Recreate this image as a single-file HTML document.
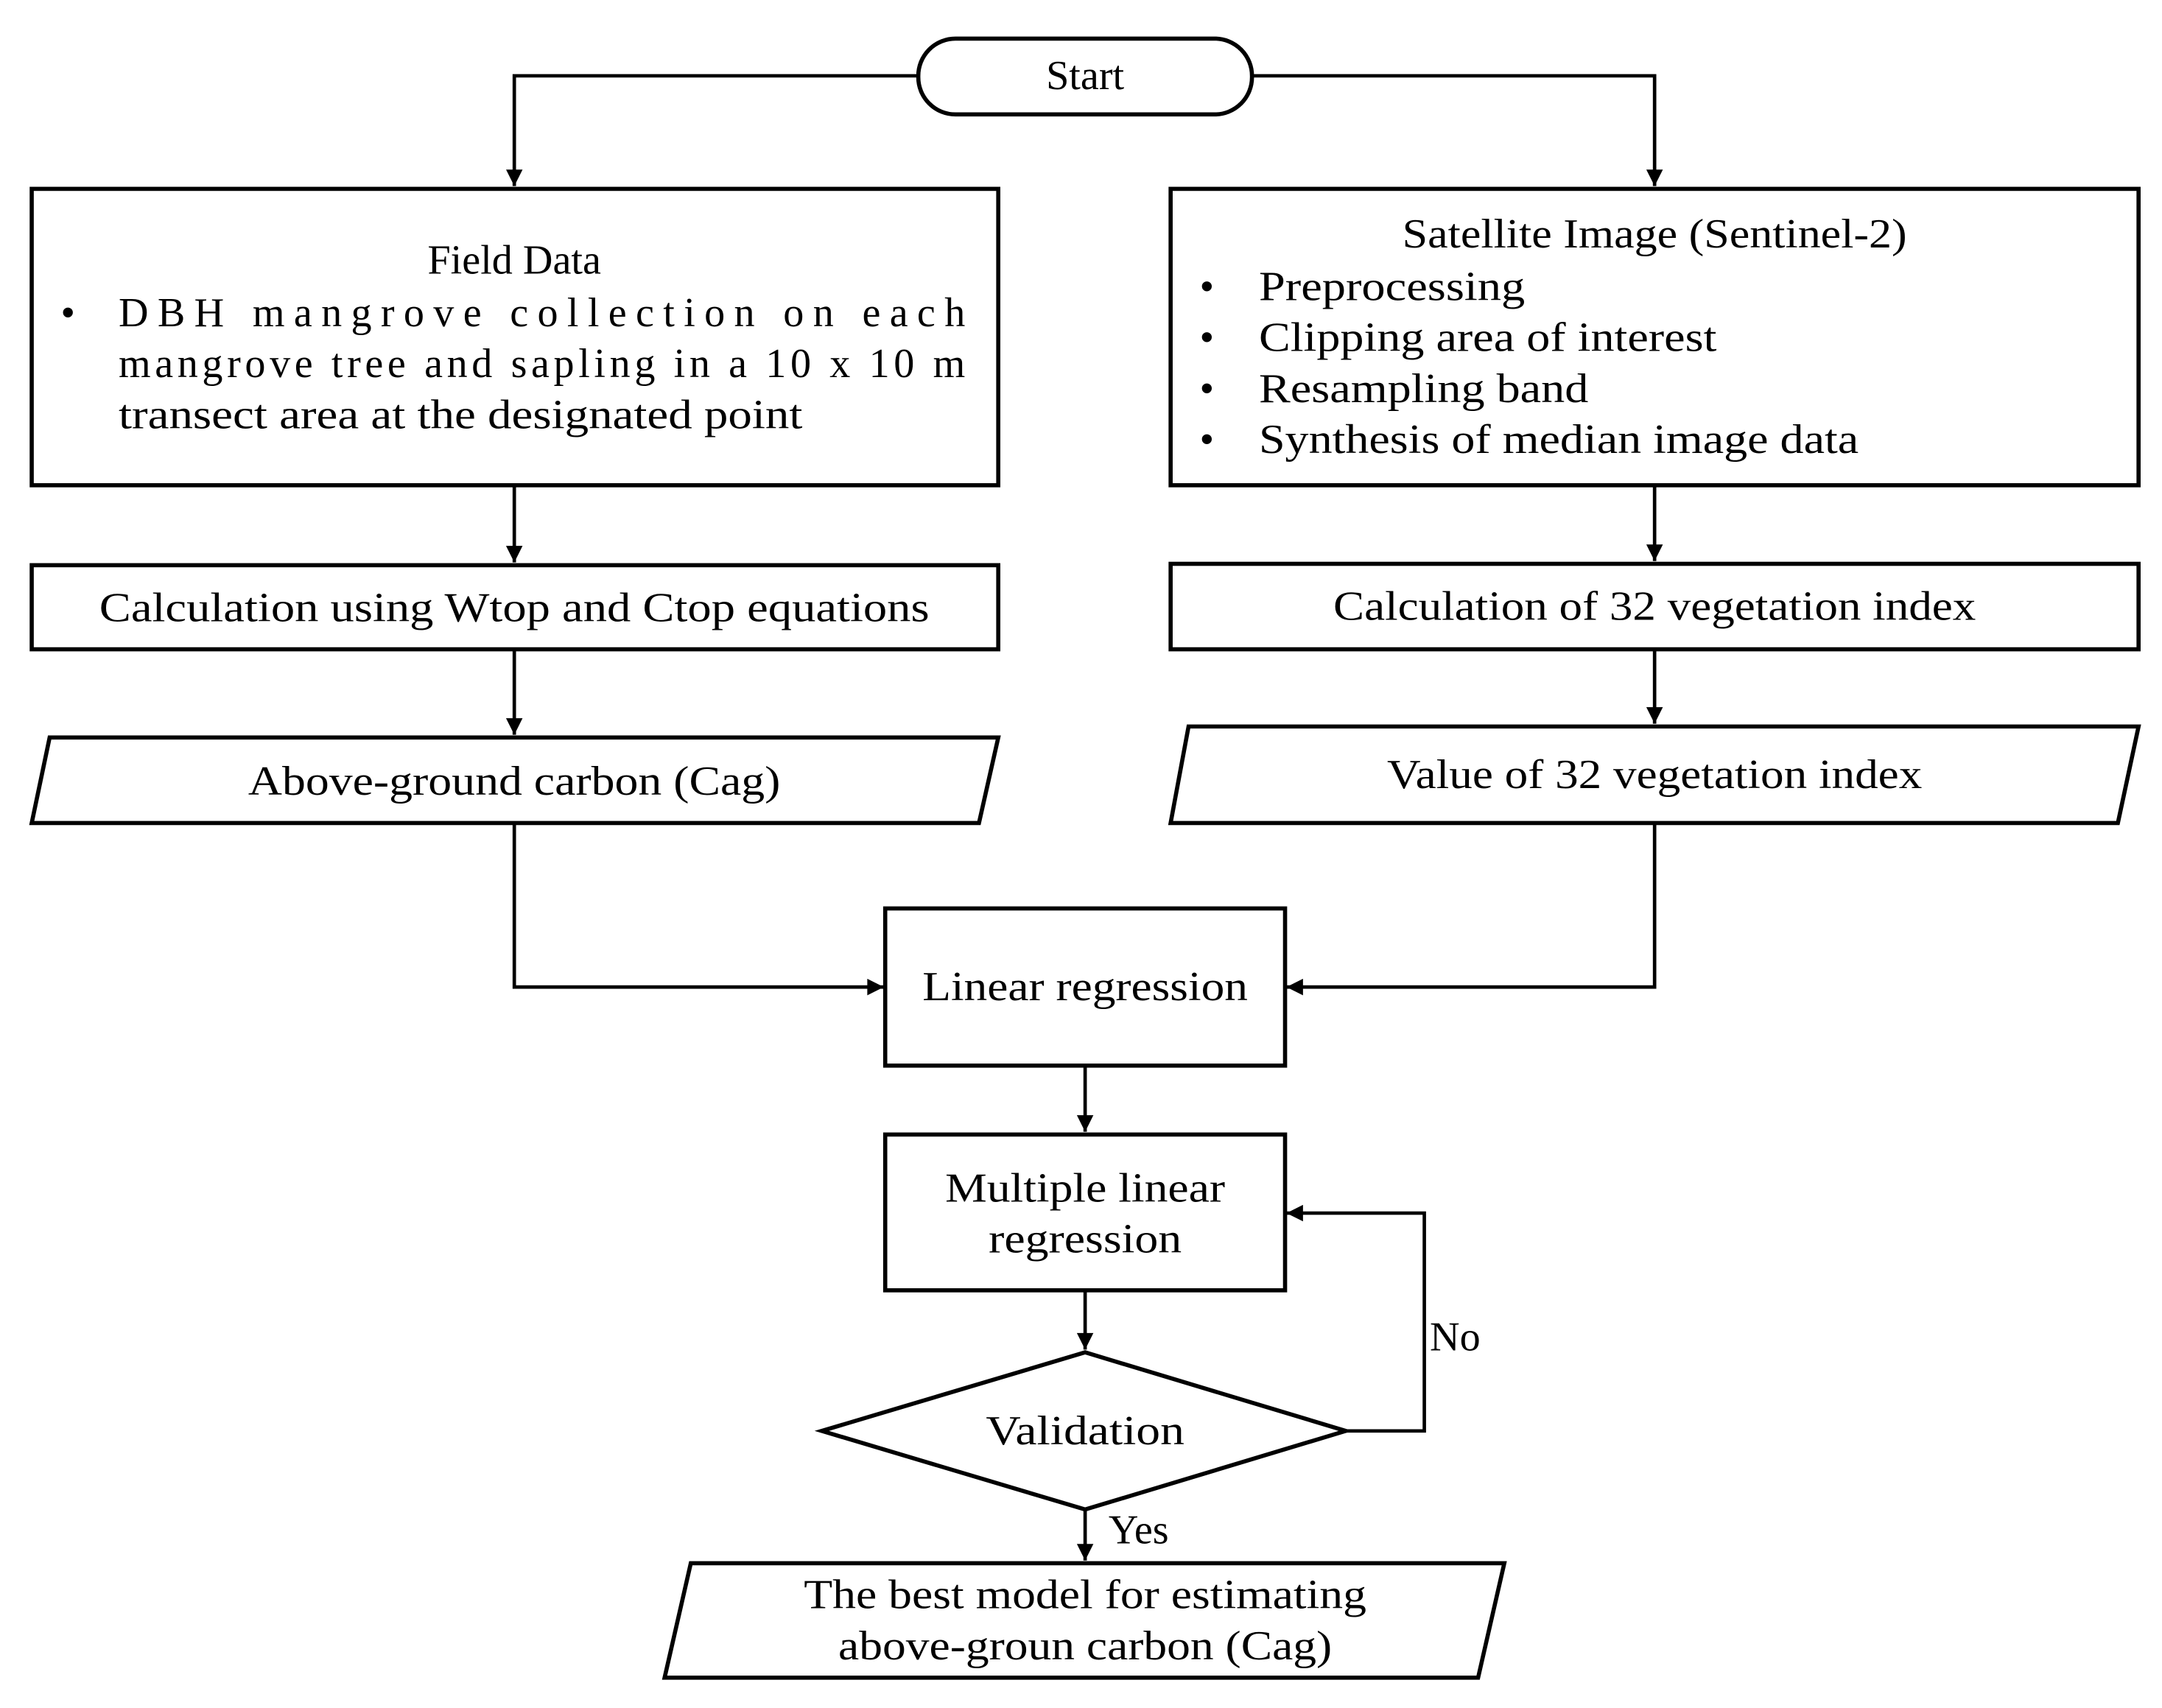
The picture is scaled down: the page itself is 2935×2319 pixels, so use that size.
<!DOCTYPE html>
<html><head><meta charset="utf-8"><style>html,body{margin:0;padding:0;background:#fff}svg{display:block}</style></head><body>
<svg width="2935" height="2319" viewBox="0 0 1568 1239" preserveAspectRatio="none" xmlns="http://www.w3.org/2000/svg">
<defs><marker id="a" viewBox="0 0 10 10" refX="10" refY="5" markerWidth="6" markerHeight="6" markerUnits="userSpaceOnUse" orient="auto"><path d="M0,0 L10,5 L0,10 z" fill="#000"/></marker>
<marker id="b" viewBox="0 0 10 10" refX="10" refY="5" markerWidth="18" markerHeight="12" markerUnits="userSpaceOnUse" orient="auto"><path d="M0,0 L10,5 L0,10 z" fill="#000"/></marker></defs>
<g fill="none" stroke="#000" stroke-width="3">
<rect x="666" y="28" width="242" height="55" rx="27" ry="27"/>
<rect x="23" y="137" width="701" height="215"/>
<rect x="849" y="137" width="702" height="215"/>
<rect x="23" y="410" width="701" height="61"/>
<rect x="849" y="409" width="702" height="62"/>
<polygon points="36,535 724,535 710,597 23,597"/>
<polygon points="862,527 1551,527 1536,597 849,597"/>
<rect x="642" y="659" width="290" height="114"/>
<rect x="642" y="823" width="290" height="113"/>
<polygon points="787,981 976,1038 787,1095 596,1038"/>
<polygon points="501,1134 1091,1134 1072,1217 482,1217"/>
</g>
<g fill="none" stroke="#000" stroke-width="2.5">
<path d="M666,55 H373 V135" marker-end="url(#b)"/>
<path d="M908,55 H1200 V135" marker-end="url(#b)"/>
<path d="M373,352 V408" marker-end="url(#b)"/>
<path d="M1200,352 V407" marker-end="url(#b)"/>
<path d="M373,471 V533" marker-end="url(#b)"/>
<path d="M1200,471 V525" marker-end="url(#b)"/>
<path d="M373,597 V716 H641" marker-end="url(#b)"/>
<path d="M1200,597 V716 H933" marker-end="url(#b)"/>
<path d="M787,773 V821" marker-end="url(#b)"/>
<path d="M787,936 V979" marker-end="url(#b)"/>
<path d="M976,1038 H1033 V880 H933" marker-end="url(#b)"/>
<path d="M787,1095 V1132" marker-end="url(#b)"/>
</g>
<g font-family="'Liberation Serif', serif" font-size="30" fill="#000" dominant-baseline="central">
<text x="787" y="55" text-anchor="middle">Start</text>
<text x="373" y="189" text-anchor="middle">Field Data</text>
<text x="44" y="227">•</text>
<text x="86" y="227" textLength="614" lengthAdjust="spacing">DBH mangrove collection on each</text>
<text x="86" y="264" textLength="614" lengthAdjust="spacing">mangrove tree and sapling in a 10 x 10 m</text>
<text x="86" y="301" textLength="496" lengthAdjust="spacingAndGlyphs">transect area at the designated point</text>
<text x="1200" y="170" text-anchor="middle" textLength="366" lengthAdjust="spacingAndGlyphs">Satellite Image (Sentinel-2)</text>
<text x="870" y="208">•</text><text x="913" y="208" textLength="193" lengthAdjust="spacingAndGlyphs">Preprocessing</text>
<text x="870" y="245">•</text><text x="913" y="245" textLength="332" lengthAdjust="spacingAndGlyphs">Clipping area of interest</text>
<text x="870" y="282">•</text><text x="913" y="282" textLength="239" lengthAdjust="spacingAndGlyphs">Resampling band</text>
<text x="870" y="319">•</text><text x="913" y="319" textLength="435" lengthAdjust="spacingAndGlyphs">Synthesis of median image data</text>
<text x="373" y="441" text-anchor="middle" textLength="602" lengthAdjust="spacingAndGlyphs">Calculation using Wtop and Ctop equations</text>
<text x="1200" y="440" text-anchor="middle" textLength="466" lengthAdjust="spacingAndGlyphs">Calculation of 32 vegetation index</text>
<text x="373" y="567" text-anchor="middle" textLength="386" lengthAdjust="spacingAndGlyphs">Above-ground carbon (Cag)</text>
<text x="1200" y="562" text-anchor="middle" textLength="388" lengthAdjust="spacingAndGlyphs">Value of 32 vegetation index</text>
<text x="787" y="716" text-anchor="middle" textLength="236" lengthAdjust="spacingAndGlyphs">Linear regression</text>
<text x="787" y="862" text-anchor="middle" textLength="203" lengthAdjust="spacingAndGlyphs">Multiple linear</text>
<text x="787" y="899" text-anchor="middle" textLength="140" lengthAdjust="spacingAndGlyphs">regression</text>
<text x="787" y="1038" text-anchor="middle" textLength="144" lengthAdjust="spacingAndGlyphs">Validation</text>
<text x="1037" y="970">No</text>
<text x="804" y="1110">Yes</text>
<text x="787" y="1157" text-anchor="middle" textLength="408" lengthAdjust="spacingAndGlyphs">The best model for estimating</text>
<text x="787" y="1194" text-anchor="middle" textLength="358" lengthAdjust="spacingAndGlyphs">above-groun carbon (Cag)</text>
</g>
</svg>
</body></html>
